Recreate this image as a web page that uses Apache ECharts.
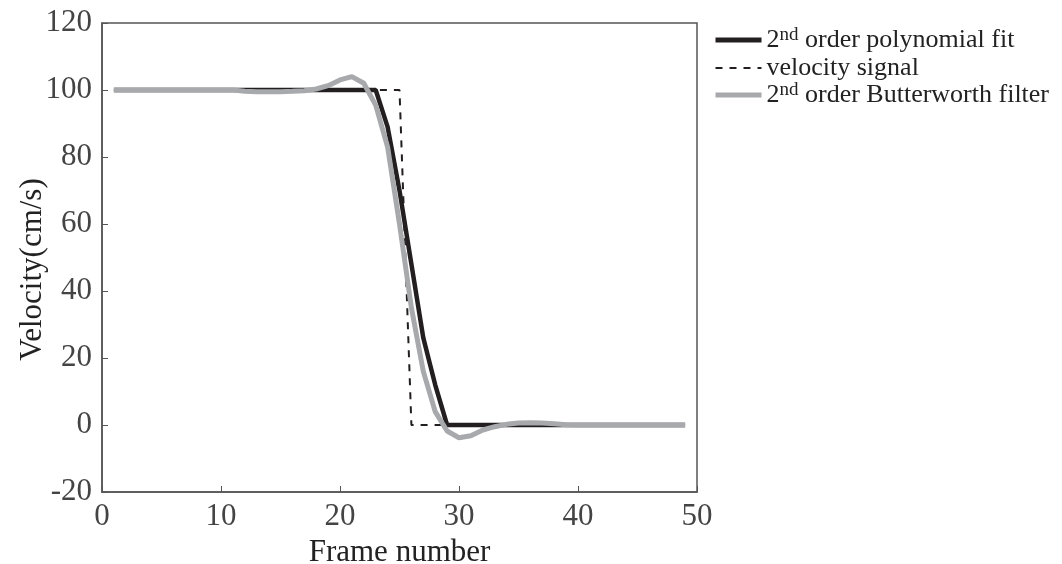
<!DOCTYPE html>
<html><head><meta charset="utf-8">
<script src="https://cdn.jsdelivr.net/npm/echarts@6/dist/echarts.min.js"></script>
<style>html,body{margin:0;padding:0;background:#fff}#c{width:1062px;height:564px}</style>
</head><body><div id="c"></div>
<script>
var frames = [1,2,3,4,5,6,7,8,9,10,11,12,13,14,15,16,17,18,19,20,21,22,23,24,25,26,27,28,29,30,31,32,33,34,35,36,37,38,39,40,41,42,43,44,45,46,47,48,49];
var polyFit = [100,100,100,100,100,100,100,100,100,100,100,100,100,100,100,100,100,100,100,100,100,100,100,89,70,48,26,12,0,0,0,0,0,0,0,0,0,0,0,0,0,0,0,0,0,0,0,0,0];
var velSignal = [100,100,100,100,100,100,100,100,100,100,100,100,100,100,100,100,100,100,100,100,100,100,100,100,100,0,0,0,0,0,0,0,0,0,0,0,0,0,0,0,0,0,0,0,0,0,0,0,0];
var butter = [100,100,100,100,100,100,100,100,100,100,100,99.6,99.5,99.5,99.5,99.6,99.8,100.3,101.3,103,104,102,95.5,83,60,35,16,4,-1.8,-3.8,-3.2,-1.5,-0.5,0.2,0.6,0.7,0.6,0.4,0.1,0,0,0,0,0,0,0,0,0,0];
var xTicks = [0,10,20,30,40,50];
var yTicks = [-20,0,20,40,60,80,100,120];

function pairs(ys){ return frames.map(function(f,i){ return [f, ys[i]]; }); }
var serif = '"Liberation Serif", "DejaVu Serif", serif';
var axisCol = '#555555';
var chart = echarts.init(document.getElementById('c'));
chart.setOption({
  animation: false,
  grid: {left: 102, top: 23, width: 595, height: 469, show: true, borderColor: axisCol, borderWidth: 1.5, containLabel: false, outerBoundsMode: 'none'},
  xAxis: {type: 'value', min: xTicks[0], max: xTicks[xTicks.length-1], interval: 10,
    name: 'Frame number', nameLocation: 'middle', nameGap: 39,
    nameTextStyle: {fontFamily: serif, fontSize: 31, color: '#222'},
    axisLine: {show: true, onZero: false, lineStyle: {color: axisCol, width: 1.5}},
    axisTick: {show: true, inside: true, length: 6, lineStyle: {color: axisCol}},
    axisLabel: {fontFamily: serif, fontSize: 31, color: '#444', margin: 9},
    splitLine: {show: false}},
  yAxis: {type: 'value', min: yTicks[0], max: yTicks[yTicks.length-1], interval: 20,
    name: 'Velocity(cm/s)', nameLocation: 'middle', nameGap: 54, nameMoveOverlap: false,
    nameTextStyle: {fontFamily: serif, fontSize: 31, color: '#222', padding: [0, 24, 0, 0]},
    axisLine: {show: true, lineStyle: {color: axisCol, width: 1.5}},
    axisTick: {show: true, inside: true, length: 6, lineStyle: {color: axisCol}},
    axisLabel: {fontFamily: serif, fontSize: 31, color: '#444', margin: 10},
    splitLine: {show: false}},
  legend: {
    orient: 'vertical', left: 708, top: 21, itemWidth: 46, itemHeight: 14, itemGap: 0,
    itemStyle: {opacity: 0, color: 'transparent', borderColor: 'transparent'},
    data: [
      {name: 'poly', lineStyle: {width: 5, color: '#231f20'}},
      {name: 'vel', lineStyle: {width: 2, color: '#231f20', type: [7, 7]}},
      {name: 'butter', lineStyle: {width: 5, color: '#a7a9ac'}}
    ],
    formatter: function(n){
      if (n === 'poly') return '{t|2}{s|nd}{t| order polynomial fit}';
      if (n === 'vel') return '{t|velocity signal}';
      return '{t|2}{s|nd}{t| order Butterworth filter}';
    },
    textStyle: {fontFamily: serif, fontSize: 26, color: '#222',
      rich: {t: {fontFamily: serif, fontSize: 26, color: '#222', lineHeight: 28},
             s: {fontFamily: serif, fontSize: 19, color: '#222', verticalAlign: 'top', lineHeight: 28, padding: [0,0,10,0]}}}
  },
  series: [
    {name: 'poly', type: 'line', data: pairs(polyFit), showSymbol: false, symbol: 'none', z: 2,
     lineStyle: {color: '#231f20', width: 4.5}, itemStyle: {color: '#231f20'}},
    {name: 'vel', type: 'line', data: pairs(velSignal), showSymbol: false, symbol: 'none', z: 1,
     lineStyle: {color: '#231f20', width: 2, type: [7, 7]}, itemStyle: {color: '#231f20'}},
    {name: 'butter', type: 'line', data: pairs(butter), showSymbol: false, symbol: 'none', z: 3,
     lineStyle: {color: '#a7a9ac', width: 5}, itemStyle: {color: '#a7a9ac'}}
  ]
});
</script></body></html>
